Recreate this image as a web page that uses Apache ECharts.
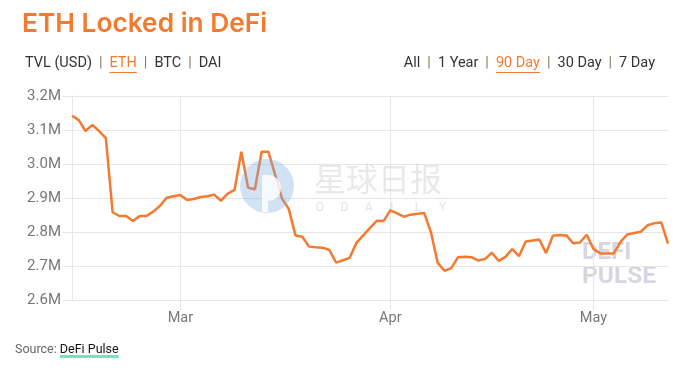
<!DOCTYPE html>
<html><head><meta charset="utf-8">
<script src="https://cdn.jsdelivr.net/npm/echarts@6/dist/echarts.min.js"></script>
<style>html,body{margin:0;padding:0;background:#fff}#c{width:684px;height:372px}</style>
</head><body><div id="c"></div>
<script>
// ---- data ----
const startDate = [2020, 1, 14]; // 14 Feb 2020, one value per day
const ethLockedM = [
  3.142, 3.129, 3.097, 3.115, 3.097, 3.076, 2.858, 2.847, 2.847, 2.832,
  2.847, 2.847, 2.860, 2.877, 2.901, 2.905, 2.909, 2.894, 2.897, 2.903,
  2.905, 2.910, 2.892, 2.913, 2.924, 3.036, 2.930, 2.926, 3.036, 3.036,
  2.968, 2.899, 2.868, 2.790, 2.786, 2.757, 2.755, 2.754, 2.747, 2.710,
  2.717, 2.724, 2.768, 2.790, 2.812, 2.833, 2.832, 2.864, 2.855, 2.845,
  2.851, 2.854, 2.856, 2.799, 2.709, 2.686, 2.694, 2.726, 2.727, 2.726,
  2.716, 2.721, 2.739, 2.715, 2.727, 2.750, 2.729, 2.772, 2.775, 2.778,
  2.738, 2.789, 2.791, 2.790, 2.767, 2.769, 2.792, 2.750, 2.737, 2.737,
  2.737, 2.771, 2.793, 2.797, 2.801, 2.820, 2.826, 2.828, 2.766
];
const monthNames = ['Jan','Feb','Mar','Apr','May','Jun','Jul','Aug','Sep','Oct','Nov','Dec'];
const yMin = 2.6, yMax = 3.2, yStep = 0.1;
const title = 'ETH Locked in DeFi';
const leftTabs = ['TVL (USD)', 'ETH', 'BTC', 'DAI'];
const leftActive = 'ETH';
const rightTabs = ['All', '1 Year', '90 Day', '30 Day', '7 Day'];
const rightActive = '90 Day';
const sourceLabel = 'Source: ';
const sourceName = 'DeFi Pulse';

// categories (dates)
const dates = ethLockedM.map((_, i) => {
  const d = new Date(Date.UTC(startDate[0], startDate[1], startDate[2]) + i * 86400000);
  return d.toISOString().slice(0, 10);
});
const isMonthStart = (idx, val) => String(val).slice(8, 10) === '01';

// ---- styling ----
const ORANGE = '#f47a30';
const GRID = '#e6e6e6';
const FONT = 'Inter, Roboto, sans-serif';
const TAB_FONT = 'Roboto, sans-serif';

const mctx = document.createElement('canvas').getContext('2d');
function tw(text, font) { mctx.font = font; return mctx.measureText(text).width; }

function tabRow(items, active, x, y, size, alignRight) {
  const font = size + 'px ' + TAB_FONT;
  const gap = 7;
  const sepW = tw('|', font);
  let total = 0;
  items.forEach((t, i) => { total += tw(t, font); if (i < items.length - 1) total += gap * 2 + sepW; });
  let cx = alignRight ? x - total : x;
  const els = [];
  items.forEach((t, i) => {
    const w = tw(t, font);
    const isA = t === active;
    els.push({ type: 'text', x: cx, y: y, style: { text: t, font: font, fill: isA ? ORANGE : '#333', textVerticalAlign: 'middle' } });
    if (isA) els.push({ type: 'line', shape: { x1: cx, y1: y + size * 0.62, x2: cx + w, y2: y + size * 0.62 }, style: { stroke: ORANGE, lineWidth: 1 } });
    cx += w;
    if (i < items.length - 1) {
      cx += gap;
      els.push({ type: 'text', x: cx, y: y, style: { text: '|', font: font, fill: '#8a7560', textVerticalAlign: 'middle' } });
      cx += sepW + gap;
    }
  });
  return els;
}

const srcFont = '12.5px Roboto, sans-serif';
const srcX = 15, srcY = 350;
const srcW1 = tw(sourceLabel, srcFont), srcW2 = tw(sourceName, srcFont);

const graphics = [
  { type: 'text', x: 22, y: 24, style: { text: title, font: '600 26.3px ' + FONT, fill: ORANGE, textVerticalAlign: 'middle' } },
  ...tabRow(leftTabs, leftActive, 25, 63.5, 14.5, false),
  ...tabRow(rightTabs, rightActive, 655, 63.5, 14.5, true),
  { type: 'rect', shape: { x: srcX + srcW1, y: srcY + 5, width: srcW2, height: 3 }, style: { fill: '#6ee6ba' }, z: 1 },
  { type: 'text', x: srcX, y: srcY, z: 2, style: { text: sourceLabel, font: srcFont, fill: '#666', textVerticalAlign: 'middle' } },
  { type: 'text', x: srcX + srcW1, y: srcY, z: 2, style: { text: sourceName, font: srcFont, fill: '#111', textVerticalAlign: 'middle' } },
  // watermarks
  { type: 'text', x: 582, y: 253, z: -1, style: { text: 'DEFI', font: 'bold 24px Roboto, sans-serif', fill: '#d6d6e3', textVerticalAlign: 'middle' } },
  { type: 'text', x: 582, y: 277, z: -1, style: { text: 'PULSE', font: 'bold 24.5px Roboto, sans-serif', fill: '#d6d6e3', textVerticalAlign: 'middle' } },
  { type: 'text', x: 314, y: 179, z: 50, style: { text: '星球日报', font: '32px "Noto Sans CJK SC", sans-serif', fill: 'rgba(200,200,200,0.4)', textVerticalAlign: 'middle' } },
  ...['O','D','A','L','L','Y'].map((ch, i) => ({ type: 'text', x: 320 + i * 24.5, y: 208, z: 50, style: { text: ch, font: '12px Roboto, sans-serif', fill: 'rgba(200,200,200,0.5)', textAlign: 'center', textVerticalAlign: 'middle' } })),
  { type: 'circle', z: 50, shape: { cx: 267, cy: 186, r: 27 }, style: { fill: 'rgba(120,172,220,0.35)' } },
  { type: 'rect', z: 51, shape: { x: 262, y: 175, width: 6, height: 37 }, style: { fill: 'rgba(255,255,255,0.8)' } },
  { type: 'sector', z: 51, shape: { cx: 268, cy: 188, r0: 0, r: 13, startAngle: -Math.PI / 2, endAngle: Math.PI / 2, clockwise: true }, style: { fill: 'rgba(255,255,255,0.8)' } }
];

const chart = echarts.init(document.getElementById('c'), null, { renderer: 'canvas' });
chart.setOption({
  animation: false,
  backgroundColor: '#fff',
  grid: { left: 72, right: 16, top: 96, bottom: 72 },
  xAxis: {
    type: 'category', data: dates, boundaryGap: false,
    axisLine: { show: true, lineStyle: { color: GRID } },
    axisTick: { show: true, interval: isMonthStart, length: 10, lineStyle: { color: GRID } },
    axisLabel: { interval: isMonthStart, formatter: v => monthNames[parseInt(v.slice(5, 7), 10) - 1], color: '#777', fontSize: 14.5, fontFamily: 'Roboto, sans-serif', margin: 11 },
    splitLine: { show: true, interval: isMonthStart, lineStyle: { color: GRID } }
  },
  yAxis: {
    type: 'value', min: yMin, max: yMax, interval: yStep,
    axisLine: { show: true, lineStyle: { color: GRID } },
    axisTick: { show: true, length: 9, lineStyle: { color: GRID } },
    axisLabel: { formatter: v => v.toFixed(1) + 'M', color: '#777', fontSize: 15, fontFamily: 'Roboto, sans-serif', margin: 11 },
    splitLine: { show: true, lineStyle: { color: GRID } }
  },
  series: [{
    type: 'line', data: ethLockedM, symbol: 'none', z: 5,
    lineStyle: { color: ORANGE, width: 2.5 }
  }],
  graphic: { elements: graphics }
});
</script>
</body></html>
